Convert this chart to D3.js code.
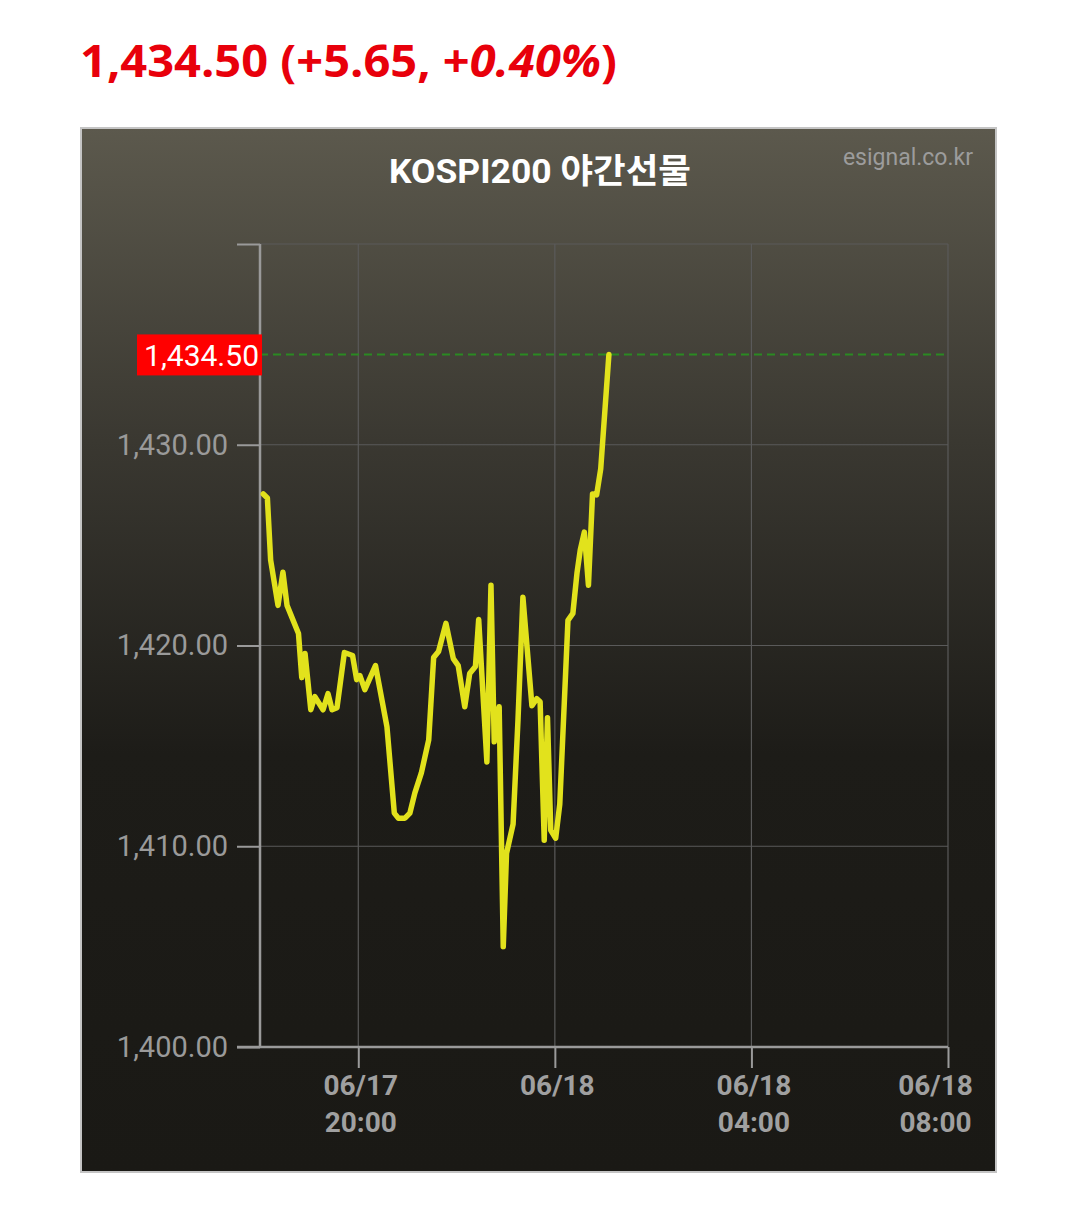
<!DOCTYPE html>
<html><head><meta charset="utf-8">
<script src="https://cdn.jsdelivr.net/npm/d3@7"></script>
<style>body{margin:0;background:#fff;} svg{display:block}</style>
</head><body><svg id="c" width="1080" height="1216"></svg>
<script>
// ---- data ----
const times = ["06/17 18:04","06/17 18:09","06/17 18:13","06/17 18:22","06/17 18:28","06/17 18:33","06/17 18:47","06/17 18:51","06/17 18:55","06/17 19:02","06/17 19:07","06/17 19:17","06/17 19:23","06/17 19:28","06/17 19:34","06/17 19:43","06/17 19:53","06/17 19:58","06/17 20:02","06/17 20:08","06/17 20:21","06/17 20:35","06/17 20:44","06/17 20:49","06/17 20:57","06/17 21:03","06/17 21:09","06/17 21:17","06/17 21:26","06/17 21:32","06/17 21:38","06/17 21:47","06/17 21:56","06/17 22:02","06/17 22:10","06/17 22:16","06/17 22:23","06/17 22:27","06/17 22:37","06/17 22:42","06/17 22:46","06/17 22:52","06/17 22:57","06/17 23:01","06/17 23:09","06/17 23:15","06/17 23:21","06/17 23:32","06/17 23:38","06/17 23:42","06/17 23:47","06/17 23:51","06/17 23:55","06/18 00:01","06/18 00:06","06/18 00:16","06/18 00:22","06/18 00:27","06/18 00:31","06/18 00:36","06/18 00:41","06/18 00:46","06/18 00:51","06/18 00:56","06/18 01:06"];
const values = [1427.55,1427.35,1424.25,1422.00,1423.65,1422.00,1420.60,1418.40,1419.60,1416.80,1417.45,1416.80,1417.60,1416.80,1416.90,1419.65,1419.50,1418.30,1418.50,1417.80,1419.00,1415.95,1411.65,1411.40,1411.40,1411.65,1412.65,1413.65,1415.30,1419.40,1419.70,1421.10,1419.35,1419.00,1416.95,1418.60,1418.95,1421.30,1414.20,1423.00,1415.20,1416.95,1405.00,1409.65,1411.10,1416.30,1422.40,1417.00,1417.35,1417.20,1410.30,1416.40,1410.80,1410.40,1412.10,1421.25,1421.60,1423.60,1424.75,1425.65,1423.00,1427.55,1427.50,1428.80,1434.50];
const domainTimes = ["06/17 18:00","06/18 08:00"];
const yDomain = [1400, 1440];
const yTicks = [1400, 1410, 1420, 1430, 1440];
const xTickTimes = ["06/17 20:00","06/18 00:00","06/18 04:00","06/18 08:00"];
const xTickLabels = [["06/17","20:00"],["06/18",""],["06/18","04:00"],["06/18","08:00"]];
const lastValue = 1434.50;
const headParts = ["1,434.50 (+5.65, +", "0.40%", ")"];
const chartTitle = "KOSPI200 야간선물";
const sourceText = "esignal.co.kr";

// ---- layout ----
const svg = d3.select("#c");
const parse = d3.timeParse("%m/%d %H:%M");
const M = {left:260, right:948, top:244, bottom:1047};

const defs = svg.append("defs");
const grad = defs.append("linearGradient").attr("id","bg").attr("x1",0).attr("y1",0).attr("x2",0).attr("y2",1);
grad.append("stop").attr("offset","0%").attr("stop-color","#5c594d");
grad.append("stop").attr("offset","30%").attr("stop-color","#3a3831");
grad.append("stop").attr("offset","60%").attr("stop-color","#1d1c18");
grad.append("stop").attr("offset","100%").attr("stop-color","#1a1915");

// headline
const head = svg.append("text").attr("x",80).attr("y",77)
  .attr("font-family","'Open Sans', 'Noto Sans', sans-serif").attr("font-weight","bold")
  .attr("font-size",45).attr("fill","#e8000b")
  .attr("textLength",537).attr("lengthAdjust","spacingAndGlyphs");
head.append("tspan").text(headParts[0]);
head.append("tspan").attr("font-style","italic").text(headParts[1]);
head.append("tspan").text(headParts[2]);

// panel
svg.append("rect").attr("x",81).attr("y",128).attr("width",915).attr("height",1044)
  .attr("fill","url(#bg)").attr("stroke","#c4c4c4").attr("stroke-width",2);

svg.append("text").attr("x",540).attr("y",183).attr("text-anchor","middle")
  .attr("font-family","Roboto, 'Noto Sans CJK KR', sans-serif").attr("font-weight","bold")
  .attr("font-size",34).attr("fill","#ffffff")
  .attr("textLength",302).attr("lengthAdjust","spacingAndGlyphs").text(chartTitle);

svg.append("text").attr("x",973).attr("y",165).attr("text-anchor","end")
  .attr("font-family","Roboto, sans-serif").attr("font-size",23).attr("fill","#9c9c9c")
  .text(sourceText);

const x = d3.scaleTime().domain(domainTimes.map(parse)).range([M.left, M.right]);
const y = d3.scaleLinear().domain(yDomain).range([M.bottom, M.top]);

// gridlines
const grid = svg.append("g");
grid.selectAll("line.h").data(yTicks).join("line")
  .attr("x1",M.left).attr("x2",M.right).attr("y1",d=>y(d)).attr("y2",d=>y(d))
  .attr("stroke","#5a5a5a").attr("stroke-width",1.2);
grid.selectAll("line.v").data(xTickTimes).join("line")
  .attr("x1",d=>x(parse(d))).attr("x2",d=>x(parse(d))).attr("y1",M.top).attr("y2",M.bottom)
  .attr("stroke","#5a5a5a").attr("stroke-width",1.2);

// y axis
const yAxis = svg.append("g").attr("transform",`translate(${M.left},0)`)
  .call(d3.axisLeft(y).tickValues(yTicks).tickSize(23).tickPadding(9)
    .tickFormat(d => d === 1440 ? "" : d3.format(",.2f")(d)));
yAxis.select(".domain").attr("stroke","#9a9a9a").attr("stroke-width",2.5)
  .attr("d",`M0,${M.top}V${M.bottom}`);
yAxis.selectAll(".tick line").attr("stroke","#9a9a9a").attr("stroke-width",2);
yAxis.selectAll(".tick text").attr("fill","#9a9a9a").attr("font-size",29)
  .attr("font-family","Roboto, sans-serif");

// x axis
const xAxis = svg.append("g").attr("transform",`translate(0,${M.bottom})`)
  .call(d3.axisBottom(x).tickValues(xTickTimes.map(parse)).tickSize(21).tickFormat(""));
xAxis.select(".domain").attr("stroke","#9a9a9a").attr("stroke-width",2.5)
  .attr("d",`M${M.left-23},0H${M.right}`);
xAxis.selectAll(".tick line").attr("stroke","#9a9a9a").attr("stroke-width",2);
xAxis.selectAll(".tick").each(function(d,i){
  const dx = i === xTickTimes.length-1 ? -13 : 2;
  const t = d3.select(this).append("text").attr("fill","#a0a0a0")
    .attr("font-family","Roboto, sans-serif").attr("font-weight","bold")
    .attr("font-size",28).attr("text-anchor","middle");
  t.append("tspan").attr("x",dx).attr("y",48).text(xTickLabels[i][0]);
  t.append("tspan").attr("x",dx).attr("y",85).text(xTickLabels[i][1]);
});

// last value dashed line
svg.append("line").attr("x1",M.left).attr("x2",M.right)
  .attr("y1",y(lastValue)).attr("y2",y(lastValue))
  .attr("stroke","#2a8a22").attr("stroke-width",2).attr("stroke-dasharray","8,5");

// data line
const line = d3.line().x((d,i)=>x(parse(times[i]))).y(d=>y(d));
svg.append("path").datum(values).attr("d",line).attr("fill","none")
  .attr("stroke","#e2e21c").attr("stroke-width",5.5).attr("stroke-linejoin","round").attr("stroke-linecap","round");

// last value label
svg.append("rect").attr("x",137).attr("y",y(lastValue)-20).attr("width",125).attr("height",41).attr("fill","#ff0000");
svg.append("text").attr("x",259).attr("y",y(lastValue)+1).attr("dy","0.36em").attr("text-anchor","end")
  .attr("font-family","Roboto, sans-serif").attr("font-size",30).attr("fill","#ffffff")
  .text(d3.format(",.2f")(lastValue));
</script></body></html>
